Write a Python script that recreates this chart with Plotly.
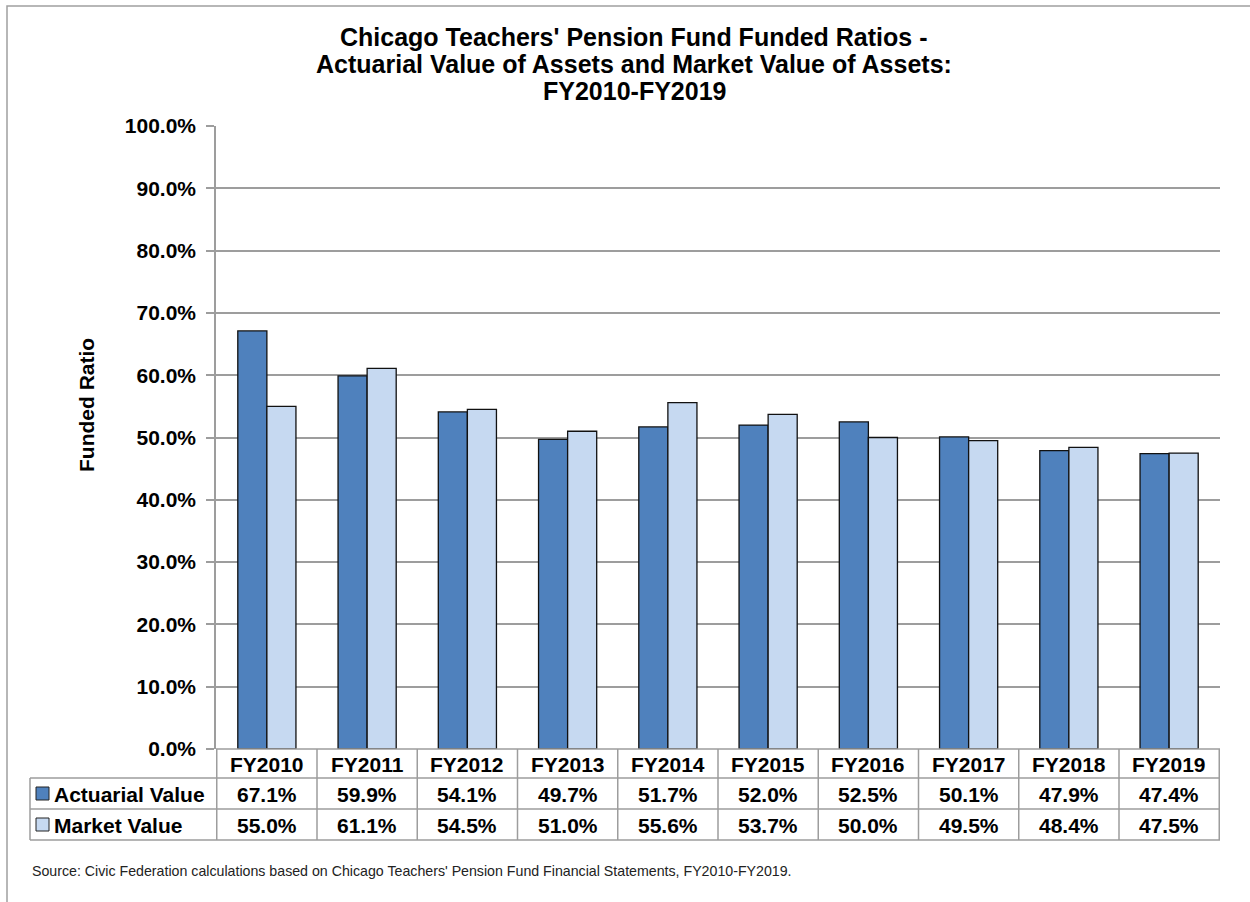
import plotly.graph_objects as go

categories = ["FY2010", "FY2011", "FY2012", "FY2013", "FY2014",
              "FY2015", "FY2016", "FY2017", "FY2018", "FY2019"]
actuarial = [67.1, 59.9, 54.1, 49.7, 51.7, 52.0, 52.5, 50.1, 47.9, 47.4]
market = [55.0, 61.1, 54.5, 51.0, 55.6, 53.7, 50.0, 49.5, 48.4, 47.5]
series_names = ["Actuarial Value", "Market Value"]
series_colors = ["#4F81BD", "#C6D9F1"]
y_ticks = [0, 10, 20, 30, 40, 50, 60, 70, 80, 90, 100]
title_lines = ["Chicago Teachers' Pension Fund Funded Ratios -",
               "Actuarial Value of Assets and Market Value of Assets:",
               "FY2010-FY2019"]
source_text = ("Source: Civic Federation calculations based on Chicago Teachers' Pension Fund "
               "Financial Statements, FY2010-FY2019.")

W, H = 1250, 902
L, R, T, B = 216, 30, 126, 153
PW, PH = W - L - R, H - T - B

def px_x(p):
    return (p - L) / PW

def px_y(p):
    return (H - B - p) / PH

FONT = "Liberation Sans, Arial, sans-serif"
GRID = "#9d9d9d"
TXT = 21

fig = go.Figure()
for name, vals, col in zip(series_names, [actuarial, market], series_colors):
    fig.add_trace(go.Bar(x=categories, y=vals, name=name,
                         marker=dict(color=col, line=dict(color="#111111", width=1.3)),
                         showlegend=False))

shapes = []
annotations = []

row_edges = [749, 778, 809, 840]
left_px = 30
n = len(categories)

for i, ry in enumerate(row_edges):
    x0 = px_x(left_px) if i > 0 else 0
    shapes.append(dict(type="line", xref="paper", yref="paper", x0=x0, x1=1,
                       y0=px_y(ry), y1=px_y(ry), line=dict(color=GRID, width=1.5)))
shapes.append(dict(type="line", xref="paper", yref="paper", x0=px_x(left_px), x1=px_x(left_px),
                   y0=px_y(row_edges[1]), y1=px_y(row_edges[3]), line=dict(color=GRID, width=1.5)))
for k in range(n + 1):
    shapes.append(dict(type="line", xref="x", yref="paper", x0=k - 0.5, x1=k - 0.5,
                       y0=px_y(row_edges[0]), y1=px_y(row_edges[3]), line=dict(color=GRID, width=1.5)))

for i, c in enumerate(categories):
    annotations.append(dict(x=c, xref="x", yref="paper", xanchor="center", yanchor="middle",
                            y=px_y((row_edges[0] + row_edges[1]) / 2 + 1), text=c, showarrow=False,
                            font=dict(family=FONT, size=TXT, color="black", weight="bold")))
    for r, vals in enumerate([actuarial, market], start=1):
        annotations.append(dict(x=c, xref="x", yref="paper", xanchor="center", yanchor="middle",
                                y=px_y((row_edges[r] + row_edges[r + 1]) / 2 + 1),
                                text=f"{vals[i]:.1f}%", showarrow=False,
                                font=dict(family=FONT, size=TXT, color="black", weight="bold")))

for r, (name, col) in enumerate(zip(series_names, series_colors), start=1):
    cy = (row_edges[r] + row_edges[r + 1]) / 2
    shapes.append(dict(type="rect", xref="paper", yref="paper",
                       x0=px_x(36), x1=px_x(49), y0=px_y(cy - 6.5), y1=px_y(cy + 6.5),
                       fillcolor=col, line=dict(color="#222222", width=1)))
    annotations.append(dict(x=px_x(52), xref="paper", yref="paper", y=px_y(cy + 1),
                            xanchor="left", yanchor="middle", text=name, showarrow=False,
                            font=dict(family=FONT, size=TXT, color="black", weight="bold")))

shapes.append(dict(type="rect", xref="paper", yref="paper",
                   x0=px_x(7), x1=px_x(1300), y0=px_y(6), y1=px_y(960),
                   line=dict(color="#a0a0a0", width=1.5), layer="below"))

for line, cy in zip(title_lines, [37, 64, 91]):
    annotations.append(dict(xref="paper", yref="paper", x=px_x(634), y=px_y(cy),
                            xanchor="center", yanchor="middle", text=line, showarrow=False,
                            font=dict(family=FONT, size=25, color="black", weight="bold")))
annotations.append(dict(xref="paper", yref="paper", x=px_x(86), y=px_y(405), textangle=-90,
                        xanchor="center", yanchor="middle",
                        text="Funded Ratio", showarrow=False,
                        font=dict(family=FONT, size=21, color="black", weight="bold")))
annotations.append(dict(xref="paper", yref="paper", x=px_x(30), y=px_y(871),
                        xanchor="left", yanchor="middle", text=source_text, showarrow=False,
                        font=dict(family=FONT, size=14.2, color="#222222")))

fig.update_layout(
    width=W, height=H,
    margin=dict(l=L, r=R, t=T, b=B, autoexpand=False),
    paper_bgcolor="white", plot_bgcolor="white",
    barmode="group", bargap=0.42, bargroupgap=0,
    shapes=shapes, annotations=annotations,
    xaxis=dict(showticklabels=False, ticks="", showgrid=False, showline=False, zeroline=False),
    yaxis=dict(range=[0, 100], tickvals=y_ticks, ticktext=[f"{v:.1f}%" for v in y_ticks],
               showgrid=True, gridcolor=GRID, gridwidth=1.5, zeroline=False,
               showline=True, linecolor=GRID, linewidth=1.5,
               ticks="outside", ticklen=8, tickcolor=GRID, tickwidth=1.5,
               ticklabelstandoff=6,
               tickfont=dict(family=FONT, size=TXT, color="black", weight="bold")),
)

fig.write_html("out.html", config={"displayModeBar": False},
               post_script="document.body.style.margin='0px';")
